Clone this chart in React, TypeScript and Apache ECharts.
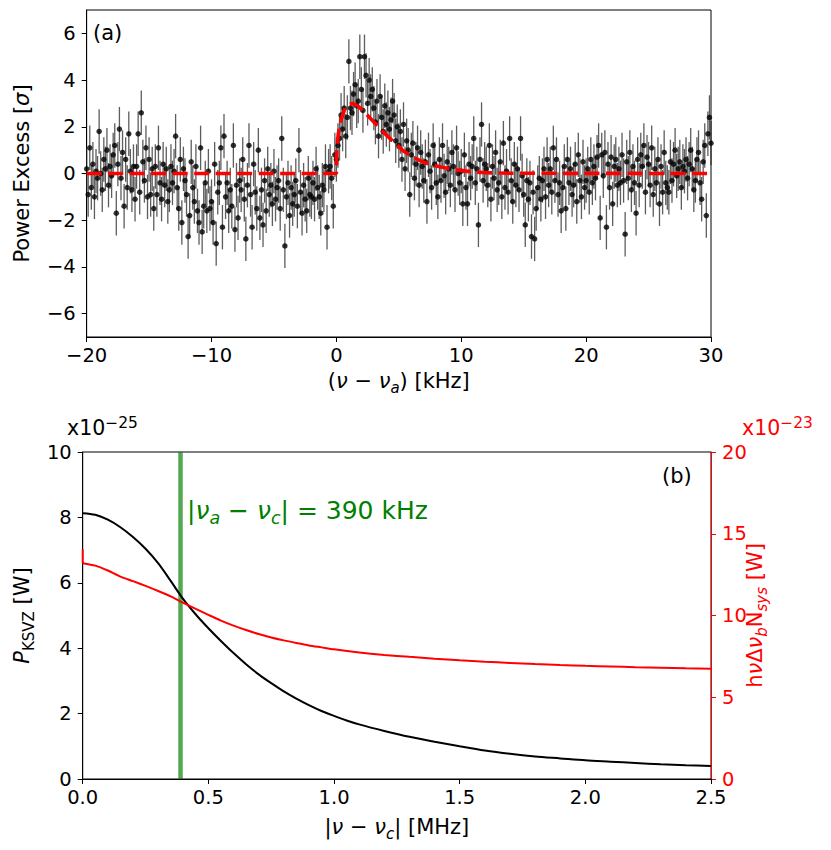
import React, { useEffect, useRef } from "react";
import * as echarts from "echarts";

const FONT = "DejaVu Sans";
const TICK_SIZE = 19.5;
const TITLE_SIZE = 21;
const SUB_SIZE = 15;
const RED = "#ff0000";
const GREEN = "#008000";

// ---------- Panel (a) data ----------
const DETUNING_START_KHZ = -20;
const DETUNING_STEP_KHZ = 0.125;
const POWER_EXCESS = [
  // -20 .. -10
  0.2, -0.9, 1.1, -0.6, 0.4, -1.0, 0.1, -0.2,
  1.8, 0.0, -0.7, 0.6, 0.2, 1.0, -0.5, 0.3,
  -0.1, 0.8, 1.2, -1.7, 0.4, 1.9, -0.2, 0.9,
  -1.4, 0.6, -0.6, 1.7, 0.1, -0.7, 0.3, -1.1,
  0.3, 1.7, -0.8, 2.6, 0.5, -0.3, 1.1, -1.0,
  0.6, -0.9, 0.2, -1.5, 0.3, -0.9, 1.1, -0.4,
  -1.1, 0.4, -0.5, 0.2, -1.2, -0.7, 0.3, -0.4,
  0.1, 1.6, -0.6, -1.5, 0.6, -2.1, 0.2, -0.3,
  -0.9, -2.7, -1.8, 0.5, -0.6, -1.2, 0.3, -1.6,
  -2.1, 1.1, -2.5, -1.4, -0.4, -1.6, 0.1, -1.5,
  // -10 .. 0
  -1.2, -2.1, 0.4, -3.0, -0.8, -0.4, 1.1, -2.3,
  1.6, -1.0, -0.4, -1.6, -0.7, -1.4, 1.2, -2.4,
  -0.5, -1.9, -0.3, -0.7, 0.6, -1.1, -2.8, -0.5,
  1.2, -0.9, -2.3, 0.4, -0.8, -1.5, 1.0, -1.9,
  -0.7, -2.2, -0.3, -1.6, 0.2, -0.9, -0.5, -1.3,
  0.1, -1.1, -0.6, -0.3, -1.5, 1.5, -0.7, -3.1,
  -1.0, -0.4, -1.8, -0.6, -1.3, -0.9, -0.3, -1.4,
  1.0, -0.8, -1.7, -0.5, -1.1, -1.6, -0.2, -0.9,
  -1.0, -0.4, -1.1, 0.2, -0.6, -1.0, -1.7, -0.5,
  -0.7, 0.3, -2.3, 0.1, 0.3, -0.2, -1.4, 0.8,
  // 0 .. 10
  0.6, 1.2, 1.5, 2.5, 1.9, 2.8, 1.6, 2.4,
  4.8, 2.8, 2.6, 3.4, 3.8, 2.9, 3.1, 5.0,
  3.6, 2.7, 5.0, 4.2, 3.0, 4.0, 3.3, 3.6,
  2.8, 2.2, 3.1, 1.6, 3.3, 2.4, 1.8, 2.9,
  2.1, 2.6, 1.9, 2.3, 3.1, 2.5, 1.4, 2.0,
  1.2, 1.8, 0.6, 2.1, 0.2, 1.4, 1.0, -0.9,
  0.8, 1.3, -0.2, 0.4, 1.1, -0.5, 0.9, 0.3,
  -0.3, 0.5, -1.2, 0.8, 0.1, -0.6, 1.2, 0.4,
  -0.4, -1.0, 0.6, -0.3, 1.2, -0.1, -0.8, 0.5,
  0.2, -0.5, 0.9, 0.3, -0.7, 1.1, 0.0, -0.4,
  // 10 .. 20
  0.1, -1.3, 0.8, -0.6, -1.3, 0.4, -0.2, 0.3,
  1.5, -0.4, 0.2, -2.2, 0.6, 2.1, -0.3, 0.4,
  0.2, -0.5, 1.2, -1.1, 0.3, -0.2, 0.9, -0.7,
  -0.4, 0.5, -1.0, 1.3, -0.6, 0.1, -0.8, 1.5,
  -0.3, -1.2, 0.4, -0.5, 0.2, -0.7, 1.5, -0.1,
  -0.9, -2.2, -0.3, -1.1, -0.4, -2.7, -0.8, -2.8,
  -1.5, -0.6, -0.2, -1.1, -0.3, 0.2, -1.0, 0.6,
  -0.5, 0.2, -0.8, 1.1, -0.3, 0.6, -0.9, -0.4,
  -1.6, -0.6, 0.3, -1.5, 0.6, -0.4, 0.2, -0.9,
  -0.5, 0.4, -1.2, 0.8, -0.3, -1.0, 0.5, -0.6,
  // 20 .. 30
  -0.3, 0.2, -0.8, 0.6, -0.4, 0.3, -0.2, 0.7,
  1.2, -1.9, 0.8, -0.1, 0.9, -2.3, 0.4, -0.6,
  0.7, -1.3, 0.3, 0.6, -0.5, 0.2, -0.4, 0.8,
  -0.3, -2.6, 0.5, -0.2, 0.9, -0.7, 0.3, -0.4,
  -1.7, 0.6, -0.5, 0.8, 0.3, 1.2, -0.8, 0.7,
  0.4, -0.5, 1.1, -0.9, 0.2, -0.4, 0.6, -1.3,
  0.3, -0.8, 0.9, -0.4, -0.6, -0.8, 0.5, -0.3,
  0.4, 1.0, -0.1, 0.2, 0.5, -0.6, 0.3, 0.1,
  0.6, -0.2, 0.4, 1.0, 0.2, -0.7, -0.3, 0.6,
  0.9, -0.4, -1.1, 0.5, 1.2, -1.8, 1.7, 2.4,
  1.3,
];
const POWER_ERROR = 0.95;

const FIT_X_KHZ = [-20, 0, 0.02, 0.15, 0.4, 0.7, 1.0, 1.3, 1.7, 2.2, 3.0, 3.8, 4.6, 5.4, 6.2, 7.0, 8.0, 9.3, 10.7, 12, 14, 30];
const FIT_Y = [0, 0, 0.9, 1.7, 2.35, 2.8, 2.97, 3.0, 2.9, 2.65, 2.2, 1.75, 1.35, 0.95, 0.68, 0.48, 0.32, 0.17, 0.08, 0.03, 0.01, 0];

const A_X_TICKS = [-20, -10, 0, 10, 20, 30];
const A_Y_TICKS = [-6, -4, -2, 0, 2, 4, 6];

// ---------- Panel (b) data ----------
const OFFSET_MHZ = [
  0, 0.05, 0.1, 0.15, 0.2, 0.25, 0.3, 0.35, 0.4, 0.45, 0.5, 0.55, 0.6, 0.65, 0.7, 0.75, 0.8, 0.85, 0.9, 0.95,
  1.0, 1.05, 1.1, 1.2, 1.3, 1.4, 1.5, 1.6, 1.7, 1.8, 1.9, 2.0, 2.1, 2.2, 2.3, 2.4, 2.5,
];
const P_KSVZ_E25 = [
  8.13, 8.08, 7.93, 7.7, 7.4, 7.04, 6.6, 6.06, 5.5, 5.03, 4.61, 4.22, 3.85, 3.51, 3.2, 2.93, 2.68, 2.46, 2.26, 2.08,
  1.93, 1.79, 1.67, 1.47, 1.29, 1.14, 1.0, 0.87, 0.77, 0.69, 0.63, 0.57, 0.53, 0.49, 0.45, 0.42, 0.4,
];
const NOISE_X_MHZ = [
  0, 0.05, 0.1, 0.15, 0.2, 0.25, 0.3, 0.35, 0.4, 0.45, 0.5, 0.55, 0.6, 0.65, 0.7, 0.75, 0.8, 0.85, 0.9, 0.95,
  1.0, 1.1, 1.2, 1.3, 1.4, 1.5, 1.6, 1.7, 1.8, 1.9, 2.0, 2.1, 2.2, 2.3, 2.4, 2.5,
];
const NOISE_POWER_E23 = [
  13.2, 13.05, 12.75, 12.38, 12.1, 11.81, 11.5, 11.17, 10.78, 10.4, 10.04, 9.69, 9.38, 9.11, 8.87, 8.66, 8.48, 8.32, 8.17, 8.05,
  7.93, 7.74, 7.59, 7.47, 7.36, 7.26, 7.17, 7.1, 7.03, 6.97, 6.92, 6.88, 6.84, 6.81, 6.77, 6.75,
];
// short vertical step at the start of the noise curve
const NOISE_SPIKE_X_MHZ = [0, 0];
const NOISE_SPIKE_E23 = [14.05, 13.2];
const CANDIDATE_MHZ = 0.39;
const CANDIDATE_LABEL_KHZ = 390;

const minus = (v: number) => String(v).replace("-", "\u2212");

function nameStyle(color: string) {
  return {
    color,
    fontFamily: FONT,
    fontSize: TITLE_SIZE,
    lineHeight: 28,
    rich: {
      i: { color, fontFamily: FONT, fontSize: TITLE_SIZE, fontStyle: "italic", lineHeight: 28 },
      u: { color, fontFamily: FONT, fontSize: TITLE_SIZE, lineHeight: 28 },
      sub: { color, fontFamily: FONT, fontSize: SUB_SIZE, fontStyle: "italic", verticalAlign: "bottom" },
      subu: { color, fontFamily: FONT, fontSize: SUB_SIZE, verticalAlign: "bottom" },
    },
  };
}

function axisCommon(color: string) {
  return {
    type: "value",
    nameLocation: "middle",
    axisLine: { show: true, onZero: false, lineStyle: { color, width: 1 } },
    axisTick: { show: true, inside: false, length: 5, lineStyle: { color, width: 1 } },
    splitLine: { show: false },
    axisLabel: { color, fontFamily: FONT, fontSize: TICK_SIZE, margin: 10 },
    nameTextStyle: nameStyle(color),
  };
}

export default function App() {
  const ref = useRef<HTMLDivElement>(null);

  useEffect(() => {
    if (!ref.current) return;
    const chart = echarts.init(ref.current, null, { renderer: "svg" });

    const points = POWER_EXCESS.map((y, i) => [DETUNING_START_KHZ + i * DETUNING_STEP_KHZ, y]);
    const errorBars = points.map(([x, y]) => [x, y - POWER_ERROR, y + POWER_ERROR]);
    const fit = FIT_X_KHZ.map((x, i) => [x, FIT_Y[i]]);
    const signal = OFFSET_MHZ.map((x, i) => [x, P_KSVZ_E25[i]]);
    const noise = NOISE_X_MHZ.map((x, i) => [x, NOISE_POWER_E23[i]]);
    const spike = NOISE_SPIKE_X_MHZ.map((x, i) => [x, NOISE_SPIKE_E23[i]]);

    const option: any = {
      animation: false,
      backgroundColor: "#ffffff",
      textStyle: { fontFamily: FONT },
      grid: [
        { left: 79, right: 120, top: 10, bottom: 513, show: true, borderColor: "#000", borderWidth: 1, backgroundColor: "transparent" },
        { left: 80, right: 120, top: 452, bottom: 71, show: true, borderColor: "#000", borderWidth: 1, backgroundColor: "transparent" },
      ],
      xAxis: [
        {
          ...axisCommon("#000"),
          gridIndex: 0,
          min: A_X_TICKS[0],
          max: A_X_TICKS[A_X_TICKS.length - 1],
          interval: 10,
          axisLabel: { ...axisCommon("#000").axisLabel, margin: 8, formatter: minus },
          name: "({i|\u03bd} \u2212 {i|\u03bd}{sub|a}) [kHz]",
          nameGap: 30,
        },
        {
          ...axisCommon("#000"),
          gridIndex: 1,
          min: 0,
          max: 2.5,
          interval: 0.5,
          axisLabel: { ...axisCommon("#000").axisLabel, margin: 8, formatter: (v: number) => v.toFixed(1) },
          name: "|{i|\u03bd} \u2212 {i|\u03bd}{sub|c}| [MHz]",
          nameGap: 34,
        },
      ],
      yAxis: [
        {
          ...axisCommon("#000"),
          gridIndex: 0,
          min: -7,
          max: 7,
          axisLabel: { ...axisCommon("#000").axisLabel, margin: 11, formatter: minus, customValues: A_Y_TICKS },
          axisTick: { ...axisCommon("#000").axisTick, customValues: A_Y_TICKS },
          name: "Power Excess [{i|\u03c3}]",
          nameRotate: 90,
          nameGap: 45,
        },
        {
          ...axisCommon("#000"),
          gridIndex: 1,
          min: 0,
          max: 10,
          interval: 2,
          axisLabel: { ...axisCommon("#000").axisLabel, margin: 11 },
          name: "{i|P}{subu|KSVZ} [W]",
          nameRotate: 90,
          nameGap: 45,
        },
        {
          ...axisCommon(RED),
          gridIndex: 1,
          position: "right",
          min: 0,
          max: 20,
          interval: 5,
          axisLabel: { ...axisCommon(RED).axisLabel, margin: 11 },
          name: "h{i|\u03bd}\u0394{i|\u03bd}{sub|b}N{sub|sys} [W]",
          nameRotate: 90,
          nameMoveOverlap: false,
          nameGap: 30,
        },
      ],
      series: [
        {
          type: "custom",
          name: "error",
          xAxisIndex: 0,
          yAxisIndex: 0,
          silent: true,
          z: 2,
          encode: { x: 0, y: [1, 2] },
          data: errorBars,
          renderItem: (_params: any, api: any) => {
            const x = api.value(0);
            const p1 = api.coord([x, api.value(1)]);
            const p2 = api.coord([x, api.value(2)]);
            return {
              type: "line",
              shape: { x1: p1[0], y1: p1[1], x2: p2[0], y2: p2[1] },
              style: { stroke: "rgba(30,30,30,0.72)", lineWidth: 1.3 },
            };
          },
        },
        {
          type: "scatter",
          name: "data",
          xAxisIndex: 0,
          yAxisIndex: 0,
          z: 3,
          silent: true,
          symbolSize: 5.5,
          itemStyle: { color: "#000" },
          data: points,
        },
        {
          type: "line",
          name: "fit",
          xAxisIndex: 0,
          yAxisIndex: 0,
          z: 4,
          silent: true,
          showSymbol: false,
          data: fit,
          lineStyle: { color: RED, width: 3.6, type: [15, 6.5], cap: "butt" },
        },
        {
          type: "line",
          name: "candidate",
          xAxisIndex: 1,
          yAxisIndex: 1,
          data: [],
          silent: true,
          markLine: {
            z: 1,
            silent: true,
            symbol: ["none", "none"],
            label: { show: false },
            lineStyle: { color: "rgba(0,128,0,0.68)", width: 4.5, type: "solid" },
            data: [{ xAxis: CANDIDATE_MHZ }],
          },
        },
        {
          type: "line",
          name: "P_KSVZ",
          xAxisIndex: 1,
          yAxisIndex: 1,
          z: 3,
          silent: true,
          showSymbol: false,
          smooth: 0.3,
          data: signal,
          lineStyle: { color: "#000", width: 2 },
        },
        {
          type: "line",
          name: "noise",
          xAxisIndex: 1,
          yAxisIndex: 2,
          z: 3,
          silent: true,
          showSymbol: false,
          smooth: 0.25,
          data: noise,
          lineStyle: { color: RED, width: 2 },
        },
        {
          type: "line",
          name: "noise-start",
          xAxisIndex: 1,
          yAxisIndex: 2,
          z: 3,
          silent: true,
          showSymbol: false,
          data: spike,
          lineStyle: { color: RED, width: 2 },
        },
      ],
      graphic: [
        {
          type: "text",
          x: 93,
          y: 33,
          style: { text: "(a)", fontFamily: FONT, fontSize: 21, fill: "#000", verticalAlign: "middle" },
        },
        {
          type: "text",
          x: 662,
          y: 476,
          style: { text: "(b)", fontFamily: FONT, fontSize: 21, fill: "#000", verticalAlign: "middle" },
        },
        {
          type: "text",
          x: 187,
          y: 510,
          style: {
            text: "|{i|\u03bd}{sub|a} \u2212 {i|\u03bd}{sub|c}| = " + CANDIDATE_LABEL_KHZ + " kHz",
            fontFamily: FONT,
            fontSize: 25,
            lineHeight: 33,
            fill: GREEN,
            verticalAlign: "middle",
            rich: {
              i: { fontFamily: FONT, fontSize: 25, fontStyle: "italic", fill: GREEN, lineHeight: 33 },
              sub: { fontFamily: FONT, fontSize: 17.5, fontStyle: "italic", fill: GREEN, verticalAlign: "bottom" },
            },
          },
        },
        {
          type: "text",
          x: 67,
          y: 428,
          style: {
            text: "x10{s|\u221225}",
            fontFamily: FONT,
            fontSize: 20.5,
            lineHeight: 27,
            fill: "#000",
            verticalAlign: "middle",
            rich: { s: { fontFamily: FONT, fontSize: 15.5, fill: "#000", verticalAlign: "top" } },
          },
        },
        {
          type: "text",
          x: 742,
          y: 428,
          style: {
            text: "x10{s|\u221223}",
            fontFamily: FONT,
            fontSize: 20.5,
            lineHeight: 27,
            fill: RED,
            verticalAlign: "middle",
            rich: { s: { fontFamily: FONT, fontSize: 15.5, fill: RED, verticalAlign: "top" } },
          },
        },
      ],
    };

    chart.setOption(option);
    return () => chart.dispose();
  }, []);

  return (
    <div
      ref={ref}
      style={{ position: "absolute", left: 0, top: 0, width: 831, height: 850, background: "#fff" }}
    />
  );
}
